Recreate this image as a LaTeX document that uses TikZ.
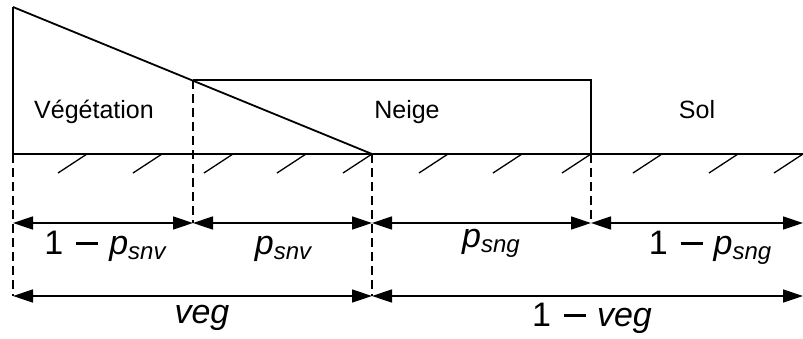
\documentclass[tikz,border=0pt]{standalone}
\usepackage{fontspec}
\setmainfont{Liberation Sans}
\usetikzlibrary{arrows.meta}
\newcommand\mysub[1]{\raisebox{-5pt}{\fontsize{24}{24}\selectfont\itshape #1}}
\newcommand\mymin{\hspace{13pt}\rule[9.5pt]{22pt}{2.6pt}\hspace{11pt}}
\begin{document}
\begin{tikzpicture}[x=1pt,y=-1pt,
  main/.style={line width=1.8pt, line join=miter},
  hatchline/.style={line width=1.3pt},
  guide/.style={line width=1.3pt, dash pattern=on 9pt off 5pt},
  dimline/.style={line width=1.5pt, {Triangle[length=20pt,width=13pt]}-{Triangle[length=20pt,width=13pt]}},
  region/.style={font=\fontsize{25}{25}\selectfont, anchor=base, inner sep=0pt},
  dimlabel/.style={font=\fontsize{34}{34}\selectfont, anchor=base, inner sep=0pt}]
\useasboundingbox (0,0) rectangle (803,338);
% key points
\coordinate (top) at (13,7);
\coordinate (g0) at (13,154);
\coordinate (tri) at (372,154);
\coordinate (st) at (193,80);
\coordinate (sr) at (591,80);
\coordinate (sg) at (591,154);
\coordinate (gend) at (803,154);
% dimension row 1
\coordinate (a0) at (13,223);
\coordinate (a1) at (193,223);
\coordinate (a2) at (372,223);
\coordinate (a3) at (591,223);
\coordinate (a4) at (803,223);
% dimension row 2
\coordinate (b0) at (13,296);
\coordinate (b1) at (372,296);
\coordinate (b2) at (803,296);
% outlines
\draw[main] (top) -- (tri);
\draw[main] (top) -- (g0) -- (gend);
\draw[main] (st) -- (sr) -- (sg);
% hatching
\foreach \x in {87,162,233,306,372,448,522,591,662,738,803}
  \draw[hatchline] (\x,154) -- ++(-29,19);
% guides
\draw[guide] (g0) -- (b0);
\draw[guide] (st) -- (a1);
\draw[guide] (tri) -- (b1);
\draw[guide] (sg) -- (a3);
% dimensions
\draw[dimline] (a0) -- (a1);
\draw[dimline] (a1) -- (a2);
\draw[dimline] (a2) -- (a3);
\draw[dimline] (a3) -- (a4);
\draw[dimline] (b0) -- (b1);
\draw[dimline] (b1) -- (b2);
% region labels
\node[region] (veget) at (94,118) {Végétation};
\node[region] (neige) at (407,118) {Neige};
\node[region] (sol) at (697,118) {Sol};
% dimension labels
\node[dimlabel] (l1) at (105,254) {1\mymin\textit{p}\mysub{snv}};
\node[dimlabel] (l2) at (283,254) {\textit{p}\mysub{snv}};
\node[dimlabel] (l3) at (491,247) {\textit{p}\mysub{sng}};
\node[dimlabel] (l4) at (710,254) {1\mymin\textit{p}\mysub{sng}};
\node[dimlabel] (l5) at (202,323) {\textit{veg}};
\node[dimlabel] (l6) at (592,326) {1\mymin\textit{veg}};
\end{tikzpicture}
\end{document}
